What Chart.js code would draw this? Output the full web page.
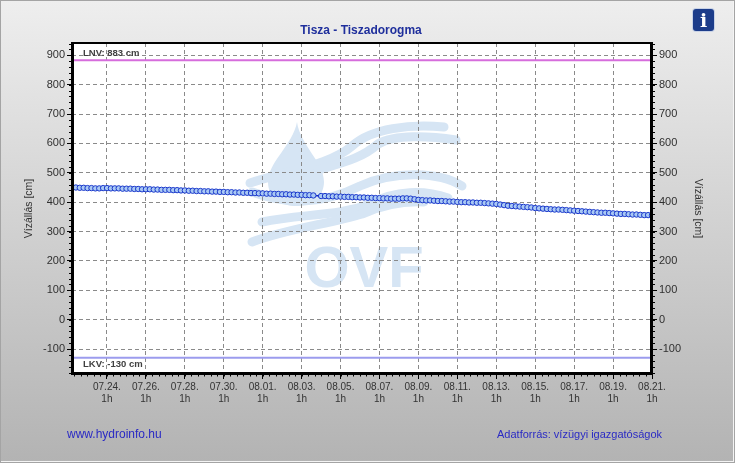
<!DOCTYPE html>
<html>
<head>
<meta charset="utf-8">
<title>Tisza - Tiszadorogma</title>
<script src="https://cdn.jsdelivr.net/npm/chart.js@4.4.0/dist/chart.umd.min.js"></script>
<style>
html, body { margin: 0; padding: 0; }
#wrap {
    position: relative; width: 735px; height: 463px; box-sizing: border-box;
    border: 1px solid #a4a4a4; box-shadow: inset -1px -1px 0 #f4f4f4;
    background: linear-gradient(#eeeeee, #b3b3b3); overflow: hidden;
    font-family: Arial, "Liberation Sans", sans-serif;
}
#c { position: absolute; left: -1px; top: -1px; }
#title { position: absolute; left: 260px; top: 22px; width: 200px; text-align: center;
    font-weight: bold; font-size: 12px; color: #1f2f9c; }
.foot { position: absolute; top: 426px; font-size: 12px; color: #2a2ac4; }
#info { position: absolute; left: 692px; top: 8px; width: 21px; height: 22px; border-radius: 3px;
    background: #1c3c8a; box-shadow: 0 0 0 1px #c8d2e6; color: #fff; text-align: center;
    font: bold 19px/22px "DejaVu Serif", serif; }
</style>
</head>
<body>
<div id="wrap">
    <canvas id="c" width="735" height="463"></canvas>
    <div id="title">Tisza - Tiszadorogma</div>
    <div class="foot" style="left:66px">www.hydroinfo.hu</div>
    <div class="foot" style="left:496px; top:427px; font-size:11px">Adatforrás: vízügyi igazgatóságok</div>
    <div id="info">i</div>
</div>
<script>
// vízállás [cm], kb. 4.8 óránként, 07.22. 6h -> 08.21. 1h
const vizallas = [
    450, 450, 449, 449, 448, 448, 447, 447,
    448, 448, 447, 447, 447, 446, 446, 446,
    445, 445, 444, 444, 444, 443, 443, 442, 442, 442, 441, 441, 440,
    440, 439, 439, 438, 438, 437, 437, 436, 436, 435,
    435, 434, 434, 433, 433, 432, 432, 431, 431, 430,
    430, 429, 429, 428, 428, 427, 427, 426, 426, 425, 425, 424, 424,
    423, null, 421, 421,
    420, 420, 419, 419, 418, 418, 417, 417, 416, 416,
    415, 415, 414, 414, 413, 413, 412, 412, 412,
    413, 413, 412, 410, 408,
    407, 406, 406, 405, 404, 404, 403, 402, 402, 401, 400,
    400, 399, 399, 398, 398,
    397, 396, 395, 394, 392, 390, 388,
    387, 386, 385, 384, 383, 382, 380,
    379, 378, 377, 376, 375, 375, 374, 373, 372, 371,
    370, 369, 368, 367, 366, 365, 364, 364, 363, 362,
    361, 360, 360, 359, 358, 358, 357, 356, 356, 355
];
const xKezdet = -43;   // órák 07.24. 1h-hoz képest
const xVeg = 672;
const xTickOrak = [0, 48, 96, 144, 192, 240, 288, 336, 384, 432, 480, 528, 576, 624, 672];
const xTickCimkek = ['07.24.', '07.26.', '07.28.', '07.30.', '08.01.', '08.03.', '08.05.', '08.07.',
    '08.09.', '08.11.', '08.13.', '08.15.', '08.17.', '08.19.', '08.21.'];
const yTickek = [-100, 0, 100, 200, 300, 400, 500, 600, 700, 800, 900];
const yMin = -185, yMax = 942;
const lnv = 883;
const lkv = -130;

const lepes = (xVeg - xKezdet) / (vizallas.length - 1);
const pontok = vizallas.map((v, i) => ({x: xKezdet + i * lepes, y: v}));

Chart.defaults.font.family = 'Arial, "Liberation Sans", sans-serif';

const hatter = {
    id: 'hatter',
    beforeDraw(chart) {
        const {ctx, chartArea: a} = chart;
        ctx.save();
        ctx.fillStyle = '#ffffff';
        ctx.fillRect(a.left, a.top, a.right - a.left, a.bottom - a.top);
        // OVF vízjel
        ctx.fillStyle = '#d6e5f4';
        ctx.strokeStyle = '#d6e5f4';
        ctx.beginPath();
        ctx.moveTo(297, 122);
        ctx.bezierCurveTo(293, 145, 268, 162, 268, 182);
        ctx.bezierCurveTo(268, 198, 282, 206, 296, 206);
        ctx.bezierCurveTo(312, 206, 324, 196, 324, 182);
        ctx.bezierCurveTo(324, 162, 300, 145, 297, 122);
        ctx.fill();
        ctx.lineWidth = 9;
        ctx.lineCap = 'round';
        const hullam = (p) => {
            ctx.beginPath();
            ctx.moveTo(p[0], p[1]);
            for (let k = 2; k < p.length; k += 6) {
                ctx.bezierCurveTo(p[k], p[k + 1], p[k + 2], p[k + 3], p[k + 4], p[k + 5]);
            }
            ctx.stroke();
        };
        hullam([250, 183, 290, 170, 330, 165, 352, 146, 372, 128, 410, 124, 444, 127]);
        hullam([318, 170, 345, 162, 362, 158, 378, 144, 395, 134, 430, 136, 456, 140]);
        hullam([252, 192, 285, 204, 320, 206, 360, 186, 395, 170, 440, 172, 462, 186]);
        hullam([262, 222, 300, 214, 340, 216, 370, 204, 395, 190, 425, 190, 448, 198]);
        hullam([252, 242, 290, 228, 330, 224, 362, 214, 385, 204, 405, 201, 424, 202]);
        ctx.font = 'bold 58px Arial, "Liberation Sans", sans-serif';
        ctx.textAlign = 'center';
        ctx.textBaseline = 'alphabetic';
        ctx.fillText('OVF', 364, 287);
        ctx.restore();
    }
};

const hatarok = {
    id: 'hatarok',
    beforeDatasetsDraw(chart) {
        const {ctx, chartArea: a, scales} = chart;
        const y = scales.y;
        ctx.save();
        ctx.lineWidth = 2;
        ctx.strokeStyle = '#d66ddc';
        ctx.beginPath();
        ctx.moveTo(a.left, y.getPixelForValue(lnv));
        ctx.lineTo(a.right, y.getPixelForValue(lnv));
        ctx.stroke();
        ctx.strokeStyle = '#9c9cee';
        ctx.beginPath();
        ctx.moveTo(a.left, y.getPixelForValue(lkv));
        ctx.lineTo(a.right, y.getPixelForValue(lkv));
        ctx.stroke();
        ctx.fillStyle = '#404040';
        ctx.font = 'bold 9.5px Arial, "Liberation Sans", sans-serif';
        ctx.textBaseline = 'middle';
        ctx.fillText('LNV: ' + lnv + ' cm', a.left + 11, y.getPixelForValue(lnv) - 6.5);
        ctx.fillText('LKV: ' + lkv + ' cm', a.left + 11, y.getPixelForValue(lkv) + 7);
        ctx.restore();
    }
};

const keret = {
    id: 'keret',
    afterDraw(chart) {
        const {ctx, chartArea: a, scales} = chart;
        const w = a.right - a.left, h = a.bottom - a.top;
        ctx.save();
        ctx.fillStyle = '#000';
        ctx.fillRect(a.left - 1, a.top - 1, w + 2, 2);
        ctx.fillRect(a.left - 1, a.top - 1, 3, h + 2);
        ctx.fillRect(a.right - 2, a.top - 1, 3, h + 2);
        ctx.fillRect(a.left - 1, a.bottom - 2, w + 2, 3);
        // apró osztások
        ctx.strokeStyle = '#000';
        ctx.lineWidth = 1;
        ctx.beginPath();
        for (let t = -40; t <= xVeg; t += 8) {
            const px = Math.round(scales.x.getPixelForValue(t)) + 0.5;
            ctx.moveTo(px, a.bottom);
            ctx.lineTo(px, a.bottom + 2.5);
        }
        for (let v = -180; v <= 940; v += 20) {
            const py = Math.round(scales.y.getPixelForValue(v)) + 0.5;
            ctx.moveTo(a.left - 3, py);
            ctx.lineTo(a.left, py);
            ctx.moveTo(a.right, py);
            ctx.lineTo(a.right + 3, py);
        }
        ctx.stroke();
        ctx.restore();
    }
};

const yTengely = (pozicio, szelesseg, cimPadding, racs) => ({
    position: pozicio,
    min: yMin,
    max: yMax,
    afterBuildTicks: s => { s.ticks = yTickek.map(v => ({value: v})); },
    afterFit: s => { s.width = szelesseg; },
    grid: {display: true, drawOnChartArea: racs, color: '#8a8a8a', lineWidth: 1,
        tickLength: 5, tickColor: '#000', tickWidth: 1, tickBorderDash: []},
    border: {display: false, dash: [4, 3]},
    ticks: {color: '#303030', font: {size: 11}, padding: 2},
    title: {display: true, text: 'Vízállás [cm]', color: '#333', font: {size: 10.5},
        padding: {top: cimPadding, bottom: 0}}
});

const ctx = document.getElementById('c').getContext('2d');
new Chart(ctx, {
    type: 'line',
    data: {
        datasets: [{
            data: pontok,
            borderColor: '#0c22c8',
            borderWidth: 1.5,
            pointRadius: 2.7,
            pointBackgroundColor: '#a9c9f4',
            pointBorderColor: '#1a38cc',
            pointBorderWidth: 1,
            spanGaps: true,
            tension: 0
        }]
    },
    options: {
        responsive: false,
        animation: false,
        devicePixelRatio: 1,
        layout: {padding: {top: 43, left: 0, right: 0, bottom: 0}},
        plugins: {legend: {display: false}, tooltip: {enabled: false}},
        scales: {
            x: {
                type: 'linear',
                min: xKezdet,
                max: xVeg,
                afterBuildTicks: s => { s.ticks = xTickOrak.map(v => ({value: v})); },
                afterFit: s => { s.height = 89; },
                grid: {color: '#8a8a8a', lineWidth: 1, tickLength: 5, tickColor: '#000',
                    tickWidth: 1, tickBorderDash: []},
                border: {display: false, dash: [4, 3]},
                ticks: {
                    color: '#333', font: {size: 10, lineHeight: 1.2}, padding: 2,
                    maxRotation: 0, autoSkip: false,
                    callback: v => {
                        const k = xTickOrak.indexOf(v);
                        return k < 0 ? '' : [xTickCimkek[k], '1h'];
                    }
                }
            },
            y: yTengely('left', 72, 23, true),
            y2: yTengely('right', 83, 31, false)
        }
    },
    plugins: [hatter, hatarok, keret]
});
</script>
</body>
</html>
